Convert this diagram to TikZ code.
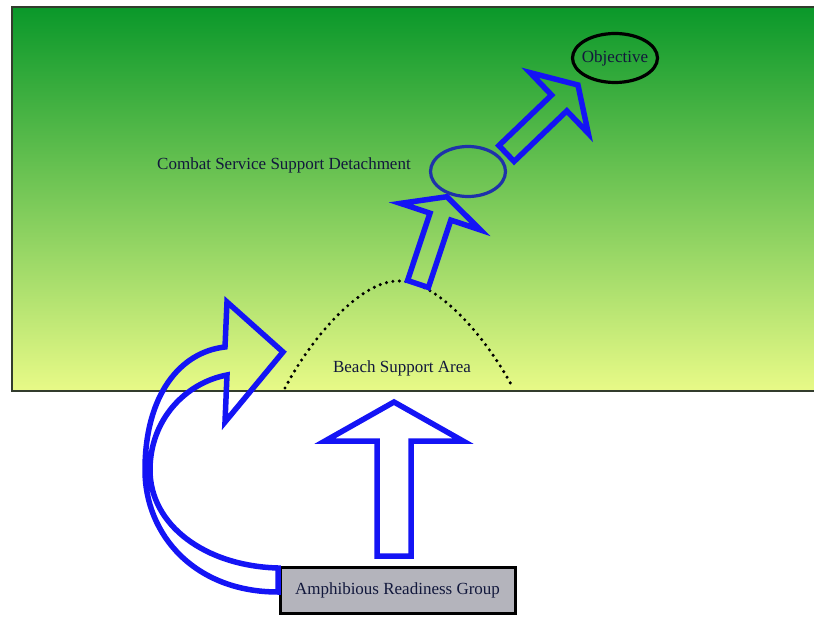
\documentclass[tikz,border=0pt]{standalone}
\usepackage{fontspec}
\setmainfont{Liberation Serif}
\usetikzlibrary{shapes.geometric}
\definecolor{gtop}{RGB}{10,152,42}
\definecolor{gmid}{RGB}{120,200,88}
\definecolor{gbot}{RGB}{232,250,135}
\definecolor{arrowblue}{RGB}{20,20,245}
\definecolor{cssblue}{RGB}{30,50,170}
\definecolor{txtcol}{RGB}{18,24,60}
\definecolor{boxgray}{RGB}{180,180,188}
\definecolor{bordercol}{RGB}{50,60,45}
\newcommand{\blockarrow}[7]{%
  \begin{scope}[shift={(#1,#2)}, rotate=#3]
    \draw[blk] (0,-#6) -- ({#4-#5},-#6) -- ({#4-#5},-#7) -- (#4,0) -- ({#4-#5},#7) -- ({#4-#5},#6) -- (0,#6) -- cycle;
  \end{scope}}
\begin{document}
\begin{tikzpicture}[x=1pt,y=-1pt,
  blk/.style={draw=arrowblue,line width=5.5pt,line join=miter},
  lbl/.style={font=\fontsize{17}{20}\selectfont, text=txtcol, inner sep=0pt},
  hill/.style={draw=black,line width=3.4pt,dash pattern=on 0pt off 6.5pt,line cap=round}]
\useasboundingbox (0,0) rectangle (814,620);
\fill[white] (0,0) rectangle (814,620);
\shade[top color=gtop, middle color=gmid, bottom color=gbot] (12,7) rectangle (816,391);
\draw[line width=2.2pt, draw=bordercol] (816,7) -- (12,7) -- (12,391) -- (816,391);
% beach support area hill
\draw[hill] (285,388) .. controls (310,340) and (360,280) .. (399,281) .. controls (438,280) and (488,340) .. (513,388);
\node[lbl] (bsa) at (402,368) {Beach Support Area};
% CSSD
\node[lbl, anchor=west] (cssdl) at (157,165) {Combat Service Support Detachment};
\node[draw=cssblue, line width=3.2pt, ellipse, minimum width=75pt, minimum height=50pt, inner sep=0pt] (cssd) at (468,171.5) {};
% Objective
\node[lbl] (obj) at (615,58) {Objective};
\draw[black, line width=3.2pt] (obj.center) ellipse [x radius=42.5, y radius=24.5];
% block arrows
\blockarrow{418}{284}{71.6}{92}{21}{11}{42}
\blockarrow{506.5}{153.5}{43.8}{99}{26}{11}{42}
\blockarrow{394}{556}{90}{154}{39}{17}{69}
% ARG box
\node[draw=black, line width=3pt, fill=boxgray, minimum width=235pt, minimum height=46pt, inner sep=0pt, lbl] (arg) at (397.5,590) {Amphibious Readiness Group};
% curved arrow
\draw[blk] (278,568) -- (278,592)
  .. controls (195,592) and (145,535) .. (145,470)
  .. controls (145,395) and (180,352) .. (225,347)
  -- (227,302) -- (283,352) -- (225,422) -- (227,375)
  .. controls (185,383) and (150,420) .. (150,470)
  .. controls (150,525) and (205,566) .. (278,568) -- cycle;
\end{tikzpicture}
\end{document}
